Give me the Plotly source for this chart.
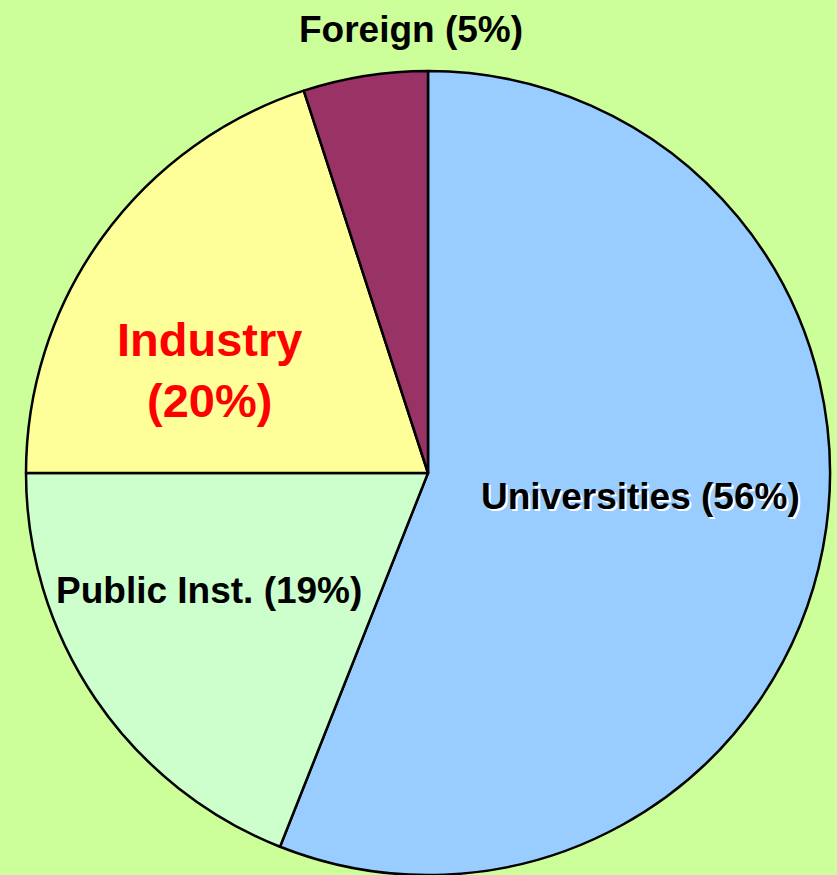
import plotly.graph_objects as go

# data
sectors = ["Universities", "Public Inst.", "Industry", "Foreign"]
shares = [56, 19, 20, 5]
colors = ["#99CCFF", "#CCFFCC", "#FFFF99", "#993366"]

W, H = 837, 875
cx, cy, r = 428, 473, 402

fig = go.Figure()
fig.add_trace(go.Pie(
    labels=sectors,
    values=shares,
    sort=False,
    direction="clockwise",
    rotation=0,
    marker=dict(colors=colors, line=dict(color="black", width=2.5)),
    textinfo="none",
    hoverinfo="label+percent",
    showlegend=False,
    domain=dict(x=[(cx - r) / W, (cx + r) / W], y=[(H - cy - r) / H, (H - cy + r) / H]),
))


def label(i, x, y, size=37, color="black", shadow="none", sep=" "):
    fig.add_annotation(
        x=x / W, y=1 - y / H, xref="paper", yref="paper",
        xanchor="center", yanchor="middle",
        text=f"<b>{sectors[i]}{sep}({shares[i]}%)</b>",
        showarrow=False,
        font=dict(family="Liberation Sans, Arial", size=size, color=color, shadow=shadow),
    )


label(0, 640, 497, shadow="2px 2px 0px white")
label(1, 209, 590)
label(2, 210, 370, size=47, color="#FF0000", sep="<br>")
label(3, 411, 30)

fig.update_layout(
    width=W, height=H,
    margin=dict(l=0, r=0, t=0, b=0),
    paper_bgcolor="#CCFF99",
    plot_bgcolor="#CCFF99",
)

fig.write_html("out.html", config={"displayModeBar": False},
               post_script="document.body.style.margin='0';")
